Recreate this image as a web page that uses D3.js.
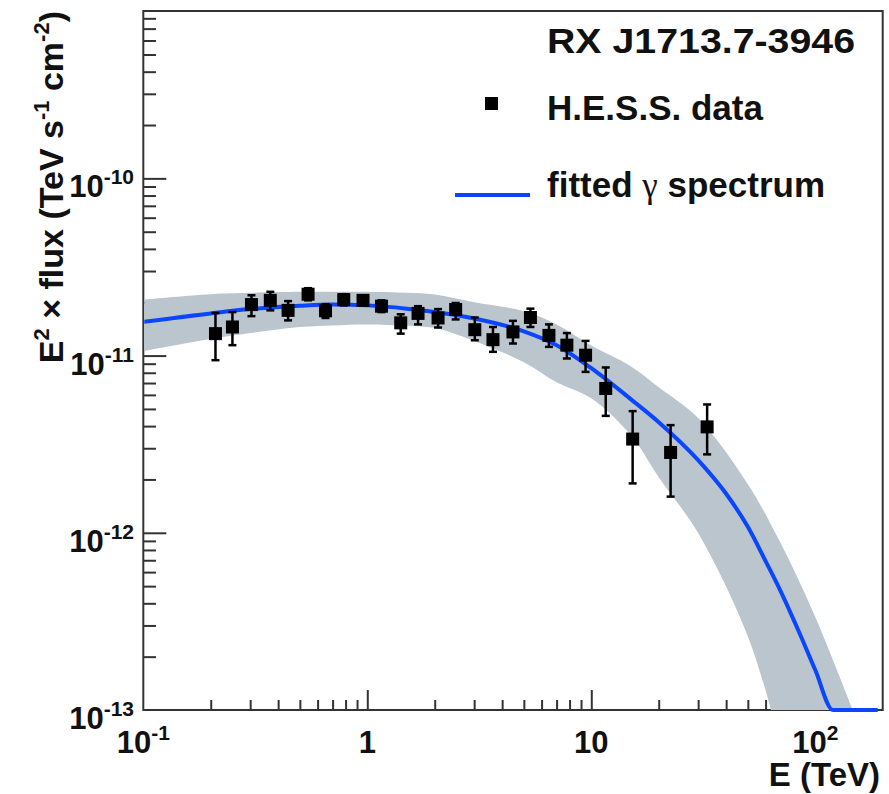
<!DOCTYPE html>
<html>
<head>
<meta charset="utf-8">
<script src="https://cdn.jsdelivr.net/npm/d3@7"></script>
<style>
  body { margin: 0; background: #fff; }
  text { font-family: "Liberation Sans", Arial, sans-serif; font-weight: bold; fill: #111; }
</style>
</head>
<body>
<svg id="chart" width="889" height="794"></svg>
<script>
// H.E.S.S. points (E in TeV, E^2 x flux in TeV s^-1 cm^-2)
const energy = [0.21, 0.25, 0.304, 0.369, 0.443, 0.544, 0.651, 0.785, 0.957, 1.157, 1.41, 1.685, 2.07, 2.48,
                3.02, 3.64, 4.47, 5.35, 6.47, 7.78, 9.43, 11.6, 15.3, 22.6, 32.9];
const flux = [1.33e-11, 1.45e-11, 1.94e-11, 2.05e-11, 1.80e-11, 2.22e-11, 1.79e-11, 2.07e-11, 2.05e-11, 1.90e-11,
              1.53e-11, 1.73e-11, 1.63e-11, 1.82e-11, 1.40e-11, 1.23e-11, 1.36e-11, 1.64e-11, 1.30e-11, 1.145e-11,
              1.005e-11, 6.52e-12, 3.38e-12, 2.84e-12, 3.96e-12];
const fluxHi = [1.74e-11, 1.76e-11, 2.19e-11, 2.29e-11, 2.03e-11, 2.40e-11, 1.95e-11, 2.22e-11, 2.19e-11, 2.05e-11,
                1.71e-11, 1.90e-11, 1.83e-11, 1.98e-11, 1.64e-11, 1.45e-11, 1.57e-11, 1.84e-11, 1.50e-11, 1.34e-11,
                1.21e-11, 8.57e-12, 4.86e-12, 4.05e-12, 5.30e-12];
const fluxLo = [9.42e-12, 1.145e-11, 1.67e-11, 1.80e-11, 1.58e-11, 2.05e-11, 1.63e-11, 1.92e-11, 1.92e-11, 1.76e-11,
                1.33e-11, 1.50e-11, 1.44e-11, 1.60e-11, 1.22e-11, 1.05e-11, 1.17e-11, 1.45e-11, 1.12e-11, 9.63e-12,
                8.09e-12, 4.57e-12, 1.90e-12, 1.60e-12, 2.77e-12];

// fitted spectrum
const fitE = [0.1, 0.2, 0.3, 0.5, 0.7, 1, 1.5, 2, 3, 5, 7, 10, 15, 20, 30, 40, 50, 60, 70, 85, 100, 120, 190];
const fitFlux = [1.55e-11, 1.73e-11, 1.83e-11, 1.91e-11, 1.94e-11, 1.92e-11, 1.84e-11, 1.76e-11, 1.62e-11, 1.37e-11,
                 1.145e-11, 8.49e-12, 5.68e-12, 4.21e-12, 2.57e-12, 1.66e-12, 1.08e-12, 6.92e-13, 4.69e-13, 2.72e-13,
                 1.68e-13, 1e-13, 1e-13];

// error band edges
const bandUpE = [0.1, 0.2, 0.3, 0.5, 0.7, 1, 1.5, 2, 3, 5, 7, 10, 15, 20, 30, 50, 70, 100, 147];
const bandUp = [2.07e-11, 2.22e-11, 2.26e-11, 2.29e-11, 2.29e-11, 2.29e-11, 2.26e-11, 2.21e-11, 2.00e-11, 1.78e-11,
                1.50e-11, 1.14e-11, 8.71e-12, 6.63e-12, 4.44e-12, 1.88e-12, 8.75e-13, 3.35e-13, 1e-13];
const bandLoE = [0.1, 0.2, 0.3, 0.5, 0.7, 1, 1.5, 2, 3, 5, 7, 10, 15, 20, 30, 50, 63.5];
const bandLo = [1.06e-11, 1.24e-11, 1.34e-11, 1.45e-11, 1.48e-11, 1.50e-11, 1.475e-11, 1.43e-11, 1.21e-11, 9.18e-12,
                7.08e-12, 5.75e-12, 3.56e-12, 2.06e-12, 9.96e-13, 2.61e-13, 1e-13];

const xMajor = [0.1, 1, 10, 100];
const yMajor = [1e-13, 1e-12, 1e-11, 1e-10];
const xLabels = [["10", "-1"], ["1", ""], ["10", ""], ["10", "2"]];
const yLabels = [["10", "-13"], ["10", "-12"], ["10", "-11"], ["10", "-10"]];

const frameL = 143.3, frameR = 882.7, frameT = 11, frameB = 710;

const svg = d3.select("#chart");

const x = d3.scaleLog().domain([0.1, 200]).range([frameL, frameR]);
const y = d3.scaleLog().domain([1e-13, 8.8e-10]).range([frameB, frameT]);

const xMinor = [];
for (const d of [0.1, 1, 10]) for (let k = 2; k <= 9; k++) xMinor.push(d * k);
const yMinor = [];
for (const d of [1e-13, 1e-12, 1e-11, 1e-10]) for (let k = 2; k <= 9; k++) if (d * k < 8.8e-10) yMinor.push(d * k);

// frame
svg.append("rect")
    .attr("x", frameL).attr("y", frameT)
    .attr("width", frameR - frameL).attr("height", frameB - frameT)
    .attr("fill", "none").attr("stroke", "#333").attr("stroke-width", 2);

function tickAxis(axis, transform) {
    const g = svg.append("g")
        .attr("transform", transform)
        .style("color", "#333")
        .call(axis);
    g.select(".domain").remove();
    g.selectAll(".tick line").attr("stroke-width", 2);
    g.selectAll(".tick text").remove();
}

tickAxis(d3.axisBottom(x).tickValues(xMajor.filter(d => d > 0.1)).tickSize(-20).tickSizeOuter(0), `translate(0,${frameB})`);
tickAxis(d3.axisBottom(x).tickValues(xMinor).tickSize(-10).tickSizeOuter(0), `translate(0,${frameB})`);
tickAxis(d3.axisLeft(y).tickValues(yMajor.filter(d => d > 1e-13)).tickSize(-23).tickSizeOuter(0), `translate(${frameL},0)`);
tickAxis(d3.axisLeft(y).tickValues(yMinor).tickSize(-12.7).tickSizeOuter(0), `translate(${frameL},0)`);

// tick labels
const xl = svg.append("g").selectAll("text")
    .data(xMajor)
    .join("text")
    .attr("x", d => x(d))
    .attr("y", 753)
    .attr("text-anchor", "middle")
    .style("font-size", "31px");
xl.append("tspan").text((d, i) => xLabels[i][0]);
xl.append("tspan").attr("dy", -13).style("font-size", "21px").text((d, i) => xLabels[i][1]);

const yl = svg.append("g").selectAll("text")
    .data(yMajor)
    .join("text")
    .attr("x", 134)
    .attr("y", d => y(d) + 19)
    .attr("text-anchor", "end")
    .style("font-size", "31px");
yl.append("tspan").text((d, i) => yLabels[i][0]);
yl.append("tspan").attr("dy", -13).style("font-size", "21px").text((d, i) => yLabels[i][1]);

// axis titles
svg.append("text")
    .attr("x", 880).attr("y", 786)
    .attr("text-anchor", "end")
    .style("font-size", "33px")
    .text("E (TeV)");

const yt = svg.append("text")
    .attr("transform", `translate(63,${frameT}) rotate(-90)`)
    .attr("text-anchor", "end")
    .style("font-size", "34px");
yt.append("tspan").text("E");
yt.append("tspan").attr("dy", -14).style("font-size", "22px").text("2");
yt.append("tspan").attr("dy", 14).text(" \u00d7 flux (TeV s");
yt.append("tspan").attr("dy", -14).style("font-size", "22px").text("-1");
yt.append("tspan").attr("dy", 14).text(" cm");
yt.append("tspan").attr("dy", -14).style("font-size", "22px").text("-2");
yt.append("tspan").attr("dy", 14).text(")");

// plot area clip
svg.append("clipPath").attr("id", "plotclip")
    .append("rect")
    .attr("x", frameL + 1).attr("y", frameT)
    .attr("width", frameR - frameL - 2).attr("height", frameB - frameT + 4);

const plot = svg.append("g").attr("clip-path", "url(#plotclip)");

// band
const edge = d3.line()
    .x(d => x(d[0]))
    .y(d => y(d[1]))
    .curve(d3.curveCatmullRom.alpha(0.5));
const upPts = bandUpE.map((e, i) => [e, bandUp[i]]);
const loPts = bandLoE.map((e, i) => [e, bandLo[i]]).reverse();
const bandPath = edge(upPts) + "L" + edge(loPts).slice(1) + "Z";
plot.append("path")
    .attr("d", bandPath)
    .attr("fill", "#bbc5cd");

// fitted line
plot.append("path")
    .datum(fitE.map((e, i) => [e, fitFlux[i]]))
    .attr("d", d3.line().x(d => x(d[0])).y(d => y(d[1])).curve(d3.curveMonotoneX))
    .attr("fill", "none")
    .attr("stroke", "#0a46ff")
    .attr("stroke-width", 4);

// data points
const pts = svg.append("g").selectAll("g")
    .data(energy.map((e, i) => ({ e, f: flux[i], hi: fluxHi[i], lo: fluxLo[i] })))
    .join("g");
pts.append("line")
    .attr("x1", d => x(d.e)).attr("x2", d => x(d.e))
    .attr("y1", d => y(d.hi)).attr("y2", d => y(d.lo))
    .attr("stroke", "#000").attr("stroke-width", 2.5);
pts.append("line")
    .attr("x1", d => x(d.e) - 4).attr("x2", d => x(d.e) + 4)
    .attr("y1", d => y(d.hi)).attr("y2", d => y(d.hi))
    .attr("stroke", "#000").attr("stroke-width", 2.5);
pts.append("line")
    .attr("x1", d => x(d.e) - 4).attr("x2", d => x(d.e) + 4)
    .attr("y1", d => y(d.lo)).attr("y2", d => y(d.lo))
    .attr("stroke", "#000").attr("stroke-width", 2.5);
pts.append("rect")
    .attr("x", d => x(d.e) - 6.5).attr("y", d => y(d.f) - 6.5)
    .attr("width", 13).attr("height", 13)
    .attr("fill", "#000");

// legend
svg.append("text")
    .attr("x", 547).attr("y", 53)
    .attr("textLength", 308)
    .attr("lengthAdjust", "spacingAndGlyphs")
    .style("font-size", "35px")
    .text("RX J1713.7-3946");

svg.append("rect")
    .attr("x", 485).attr("y", 97)
    .attr("width", 13).attr("height", 13)
    .attr("fill", "#000");
svg.append("text")
    .attr("x", 547).attr("y", 120)
    .style("font-size", "35px")
    .text("H.E.S.S. data");

svg.append("line")
    .attr("x1", 455).attr("x2", 530)
    .attr("y1", 195).attr("y2", 195)
    .attr("stroke", "#0a46ff").attr("stroke-width", 4);
const ft = svg.append("text")
    .attr("x", 547).attr("y", 197)
    .style("font-size", "35px");
ft.append("tspan").text("fitted ");
ft.append("tspan")
    .style("font-family", "'Liberation Serif', serif")
    .style("font-weight", "normal")
    .text("\u03b3");
ft.append("tspan").text(" spectrum");
</script>
</body>
</html>
